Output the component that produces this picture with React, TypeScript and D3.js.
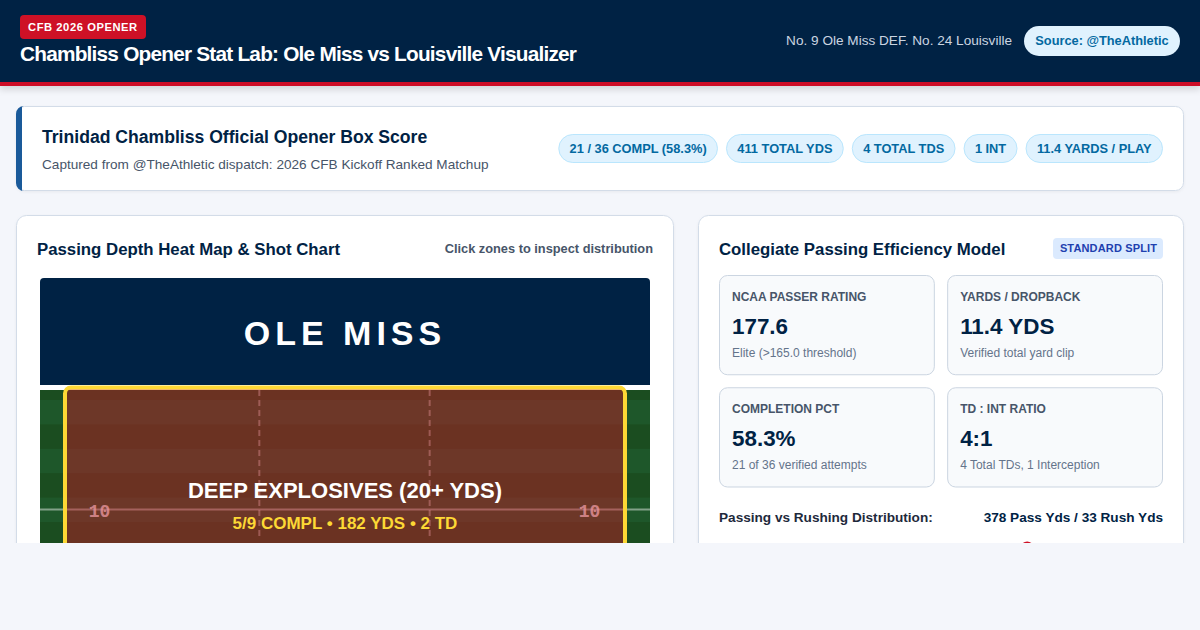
import * as d3 from 'd3';
import { useEffect, useRef } from 'react';

const headerBadge = 'CFB 2026 OPENER';
const headerTitle = 'Chambliss Opener Stat Lab: Ole Miss vs Louisville Visualizer';
const matchup = 'No. 9 Ole Miss DEF. No. 24 Louisville';
const sourceLabel = 'Source: @TheAthletic';

const boxTitle = 'Trinidad Chambliss Official Opener Box Score';
const boxSubtitle = 'Captured from @TheAthletic dispatch: 2026 CFB Kickoff Ranked Matchup';
const boxChips = ['21 / 36 COMPL (58.3%)', '411 TOTAL YDS', '4 TOTAL TDS', '1 INT', '11.4 YARDS / PLAY'];

const yardMarkers = [10];
const fieldStripes = [0, 1, 2, 3, 4, 5, 6];
const hashShares = [1 / 3, 2 / 3];

const zoneTitle = 'DEEP EXPLOSIVES (20+ YDS)';
const zoneStats = '5/9 COMPL • 182 YDS • 2 TD';

const metricLabels = ['NCAA PASSER RATING', 'YARDS / DROPBACK', 'COMPLETION PCT', 'TD : INT RATIO'];
const metricValues = ['177.6', '11.4 YDS', '58.3%', '4:1'];
const metricNotes = [
  'Elite (>165.0 threshold)',
  'Verified total yard clip',
  '21 of 36 verified attempts',
  '4 Total TDs, 1 Interception',
];

const splitLabel = 'Passing vs Rushing Distribution:';
const splitValue = '378 Pass Yds / 33 Rush Yds';
const splitMarker = 69.4;

const NAVY = '#002244';
const RED = '#ce1126';
const FONT = '"Liberation Sans", Arial, sans-serif';

const App = () => {
  const ref = useRef<SVGSVGElement | null>(null);

  useEffect(() => {
    if (!ref.current) return;
    const svg = d3.select(ref.current);
    svg.selectAll('*').remove();

    const defs = svg.append('defs');
    const clip = defs.append('clipPath').attr('id', 'page-clip');
    clip.append('rect').attr('width', 1200).attr('height', 543);
    const fieldClip = defs.append('clipPath').attr('id', 'field-clip');
    fieldClip.append('rect').attr('x', 40).attr('y', 278).attr('width', 610).attr('height', 300).attr('rx', 4);

    const shadow = defs.append('filter').attr('id', 'card-shadow').attr('x', '-5%').attr('y', '-20%').attr('width', '110%').attr('height', '140%');
    shadow.append('feDropShadow').attr('dx', 0).attr('dy', 1).attr('stdDeviation', 1.5).attr('flood-color', '#000').attr('flood-opacity', 0.05);
    const headShadow = defs.append('filter').attr('id', 'head-shadow').attr('x', '-5%').attr('y', '-20%').attr('width', '110%').attr('height', '160%');
    headShadow.append('feDropShadow').attr('dx', 0).attr('dy', 4).attr('stdDeviation', 3).attr('flood-color', '#000').attr('flood-opacity', 0.12);

    const text = (
      parent: d3.Selection<any, any, any, any>,
      value: string,
      x: number,
      y: number,
      size: number,
      fill: string,
      weight: string | number = 400,
      anchor = 'start',
      spacing = 0,
    ) =>
      parent
        .append('text')
        .attr('x', x)
        .attr('y', y)
        .attr('font-size', size)
        .attr('font-weight', weight)
        .attr('fill', fill)
        .attr('text-anchor', anchor)
        .attr('letter-spacing', spacing)
        .text(value);

    const root = svg.append('g').attr('font-family', FONT).attr('text-rendering', 'optimizeSpeed');
    root.append('rect').attr('width', 1200).attr('height', 630).attr('fill', '#f4f6fb');

    const page = root.append('g').attr('clip-path', 'url(#page-clip)');

    // header
    const head = page.append('g');
    head.append('rect').attr('width', 1200).attr('height', 86).attr('fill', RED).attr('filter', 'url(#head-shadow)');
    head.append('rect').attr('width', 1200).attr('height', 82).attr('fill', NAVY);
    head.append('rect').attr('x', 20).attr('y', 15).attr('width', 126).attr('height', 24).attr('rx', 4).attr('fill', RED);
    text(head, headerBadge, 28, 31, 11.2, '#fff', 700, 'start', 0.56);
    text(head, headerTitle, 20, 61, 20.8, '#fff', 700, 'start', -0.78);
    text(head, matchup, 1012, 45, 13.6, '#cbd5e1', 400, 'end');
    head.append('rect').attr('x', 1024).attr('y', 26).attr('width', 156).attr('height', 30).attr('rx', 15).attr('fill', '#e0f2fe');
    text(head, sourceLabel, 1102, 44.5, 12.8, '#0369a1', 700, 'middle');

    const card = (x: number, y: number, w: number, h: number, r = 10) =>
      page
        .append('rect')
        .attr('x', x + 0.5)
        .attr('y', y + 0.5)
        .attr('width', w - 1)
        .attr('height', h - 1)
        .attr('rx', r)
        .attr('fill', '#fff')
        .attr('stroke', '#d3dce8')
        .attr('filter', 'url(#card-shadow)');

    // box score strip
    card(16, 106, 1168, 85, 8);
    page.append('path').attr('d', 'M24 106 A8 8 0 0 0 16 114 V183 A8 8 0 0 0 24 191 H22 V106 Z').attr('fill', '#1a5a9a');
    text(page, boxTitle, 42, 142.5, 17.6, NAVY, 700);
    text(page, boxSubtitle, 42, 168.5, 13.6, '#475569');

    const chipGroup = page.append('g');
    let chipRight = 1163;
    [...boxChips].reverse().forEach((label) => {
      const g = chipGroup.append('g');
      const rect = g.append('rect');
      const label_ = text(g, label, 0, 153, 12.8, '#0369a1', 700);
      const w = (label_.node() as SVGTextElement).getComputedTextLength();
      const full = w + 22.7;
      rect
        .attr('x', chipRight - full + 0.5)
        .attr('y', 134.5)
        .attr('width', full - 1)
        .attr('height', 28)
        .attr('rx', 14)
        .attr('fill', '#e0f2fe')
        .attr('stroke', '#bae6fd');
      label_.attr('x', chipRight - full + 11.35);
      chipRight -= full + 8;
    });

    // left panel
    card(16, 215, 658, 400, 10);
    text(page, 'Passing Depth Heat Map & Shot Chart', 37, 254.5, 16.8, NAVY, 700);
    text(page, 'Click zones to inspect distribution', 653, 253, 12.8, '#475569', 700, 'end');

    const field = page.append('g').attr('clip-path', 'url(#field-clip)');
    const yardY = d3.scaleLinear().domain([0, 10]).range([387.5, 509.5]);
    const stripeY = d3.scaleBand<number>().domain(fieldStripes).range([400, 400 + 24.4 * fieldStripes.length]);

    field.append('rect').attr('x', 40).attr('y', 278).attr('width', 610).attr('height', 107).attr('fill', NAVY);
    field.append('rect').attr('x', 40).attr('y', 385).attr('width', 610).attr('height', 5).attr('fill', '#fff');
    field.append('rect').attr('x', 40).attr('y', 390).attr('width', 610).attr('height', 200).attr('fill', '#1b4d20');
    field
      .selectAll('rect.stripe')
      .data(fieldStripes.filter((d) => d % 2 === 0))
      .join('rect')
      .attr('class', 'stripe')
      .attr('x', 40)
      .attr('y', (d) => stripeY(d) as number)
      .attr('width', 610)
      .attr('height', stripeY.bandwidth())
      .attr('fill', '#1e572a');

    const hashX = d3.scaleLinear().domain([0, 1]).range([89, 600]);
    field
      .selectAll('line.hash')
      .data(hashShares)
      .join('line')
      .attr('class', 'hash')
      .attr('x1', (d) => hashX(d))
      .attr('x2', (d) => hashX(d))
      .attr('y1', 390)
      .attr('y2', 540)
      .attr('stroke', 'rgba(255,255,255,0.4)')
      .attr('stroke-width', 2)
      .attr('stroke-dasharray', '6 4');

    yardMarkers.forEach((yd) => {
      field
        .append('line')
        .attr('x1', 40)
        .attr('x2', 650)
        .attr('y1', yardY(yd))
        .attr('y2', yardY(yd))
        .attr('stroke', 'rgba(255,255,255,0.45)')
        .attr('stroke-width', 2);
      [99.5, 589.5].forEach((x) => {
        text(field, String(yd), x, yardY(yd) + 7.5, 18, 'rgba(255,255,255,0.8)', 700, 'middle').attr('font-family', '"Liberation Mono", monospace');
      });
    });

    field
      .append('rect')
      .attr('x', 65)
      .attr('y', 387.5)
      .attr('width', 560)
      .attr('height', 200)
      .attr('rx', 6)
      .attr('fill', 'rgba(206,17,38,0.45)')
      .attr('stroke', '#fdd835')
      .attr('stroke-width', 4);

    text(field, 'OLE MISS', 345, 345, 34, '#fff', 700, 'middle', 5);
    text(field, zoneTitle, 345, 498, 22, '#fff', 700, 'middle');
    text(field, zoneStats, 345, 529, 17, '#fdd835', 700, 'middle');

    // right panel
    card(698, 215, 486, 400, 10);
    text(page, 'Collegiate Passing Efficiency Model', 719, 254.5, 16.8, NAVY, 700);
    page.append('rect').attr('x', 1053).attr('y', 238).attr('width', 110).attr('height', 21).attr('rx', 4).attr('fill', '#dbeafe');
    text(page, 'STANDARD SPLIT', 1108.5, 252, 11, '#1e40af', 700, 'middle', 0.15);

    const metricX = d3.scaleBand<number>().domain([0, 1]).range([719, 1163]).paddingInner(12 / 222);
    const metricY = d3.scaleBand<number>().domain([0, 1]).range([275, 487.5]).paddingInner(12 / 112.25);

    metricLabels.forEach((label, i) => {
      const x = metricX(i % 2) as number;
      const y = metricY(Math.floor(i / 2)) as number;
      page
        .append('rect')
        .attr('x', x + 0.5)
        .attr('y', y + 0.5)
        .attr('width', metricX.bandwidth() - 1)
        .attr('height', metricY.bandwidth() - 1)
        .attr('rx', 8)
        .attr('fill', '#f8fafc')
        .attr('stroke', '#cbd5e1');
      text(page, label, x + 13, y + 26, 12, '#475569', 700);
      text(page, metricValues[i], x + 13, y + 58.5, 22.4, NAVY, 700);
      text(page, metricNotes[i], x + 13, y + 82, 12, '#64748b');
    });

    text(page, splitLabel, 719, 522, 13.6, '#1e293b', 700);
    text(page, splitValue, 1163, 522, 13.6, NAVY, 700, 'end');

    const markerX = d3.scaleLinear().domain([0, 100]).range([719, 1163]);
    page
      .append('circle')
      .attr('cx', markerX(splitMarker))
      .attr('cy', 548.5)
      .attr('r', 8)
      .attr('fill', RED)
      .attr('stroke', '#fff')
      .attr('stroke-width', 2);
  }, []);

  return (
    <svg
      ref={ref}
      width={1200}
      height={630}
      style={{ position: 'fixed', left: 0, top: 0, display: 'block' }}
    />
  );
};

export default App;
